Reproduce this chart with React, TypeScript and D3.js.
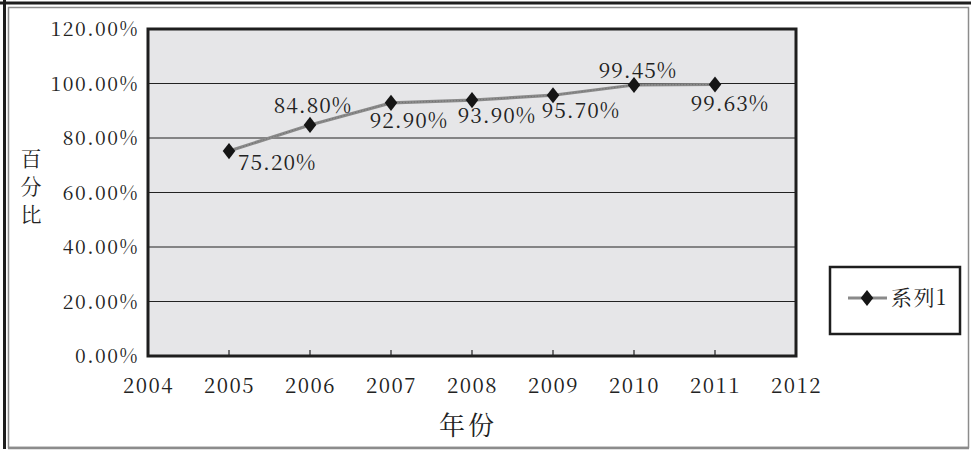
import React, { useEffect, useRef } from "react";
import { select, scaleLinear, axisBottom, axisLeft, line, symbol, symbolDiamond } from "d3";

const years = [2005, 2006, 2007, 2008, 2009, 2010, 2011];
const values = [75.2, 84.8, 92.9, 93.9, 95.7, 99.45, 99.63];
const valueLabels = ["75.20%", "84.80%", "92.90%", "93.90%", "95.70%", "99.45%", "99.63%"];
const yTicks = [0, 20, 40, 60, 80, 100, 120];
const xTicks = [2004, 2005, 2006, 2007, 2008, 2009, 2010, 2011, 2012];
const seriesName = "系列1";
const xTitle = "年份";
const yTitle = "百分比";

// where each data label sits relative to its marker
const labelOffsets: [number, number, string][] = [
    [9, 19, "start"],
    [3, -12, "middle"],
    [18, 25, "middle"],
    [25, 23, "middle"],
    [28, 23, "middle"],
    [4, -7, "middle"],
    [15, 26, "middle"],
];

const FONT = "Noto Serif CJK SC, Liberation Serif, serif";

export default function App(): JSX.Element {
    const ref = useRef<SVGSVGElement>(null);

    useEffect(() => {
        const width = 971;
        const height = 451;
        const left = 148;
        const right = 796;
        const top = 29;
        const bottom = 356;

        const svg = select(ref.current).attr("width", width).attr("height", height);
        svg.selectAll("*").remove();

        svg.append("rect").attr("width", width).attr("height", height).attr("fill", "#fff");

        // outer frame
        svg.append("rect")
            .attr("x", 8.5).attr("y", 7.5).attr("width", 960).attr("height", 440)
            .attr("fill", "none").attr("stroke", "#8c8c8c").attr("stroke-width", 1.5);
        svg.append("line").attr("x1", 8).attr("x2", 969).attr("y1", 448).attr("y2", 448)
            .attr("stroke", "#8c8c8c").attr("stroke-width", 2.5);
        svg.append("line").attr("x1", 0).attr("x2", 971).attr("y1", 3).attr("y2", 3)
            .attr("stroke", "#1e1e1e").attr("stroke-width", 3);
        svg.append("line").attr("x1", 4.5).attr("x2", 4.5).attr("y1", 0).attr("y2", 449)
            .attr("stroke", "#1e1e1e").attr("stroke-width", 3);

        const x = scaleLinear().domain([2004, 2012]).range([left, right]);
        const y = scaleLinear().domain([0, 120]).range([bottom, top]);

        // plot area
        svg.append("rect")
            .attr("x", left).attr("y", top).attr("width", right - left).attr("height", bottom - top)
            .attr("fill", "#e6e6e8");

        svg.append("g")
            .selectAll("line")
            .data(yTicks.slice(1, -1))
            .join("line")
            .attr("x1", left).attr("x2", right)
            .attr("y1", (d) => y(d)).attr("y2", (d) => y(d))
            .attr("stroke", "#222").attr("stroke-width", 1.2);

        svg.append("rect")
            .attr("x", left).attr("y", top).attr("width", right - left).attr("height", bottom - top)
            .attr("fill", "none").attr("stroke", "#1e1e1e").attr("stroke-width", 3);

        const yAxis = svg.append("g")
            .attr("transform", `translate(${left - 9},0)`)
            .call(axisLeft(y).tickValues(yTicks).tickSize(0).tickFormat((d) => `${(+d).toFixed(2)}%`));
        yAxis.attr("font-family", FONT).attr("font-size", 19.5);
        yAxis.select(".domain").remove();
        yAxis.selectAll("text")
            .attr("x", 0).attr("dy", "0.35em")
            .attr("fill", "#222")
            .attr("letter-spacing", 1.5);

        const xAxis = svg.append("g")
            .attr("transform", `translate(0,${bottom})`)
            .call(axisBottom(x).tickValues(xTicks).tickSize(0).tickFormat((d) => String(d)));
        xAxis.attr("font-family", FONT).attr("font-size", 20.5);
        xAxis.select(".domain").remove();
        xAxis.selectAll("text")
            .attr("y", 37).attr("dy", 0)
            .attr("fill", "#222")
            .attr("letter-spacing", 1.5);

        // small inward ticks
        svg.append("g")
            .selectAll("line")
            .data(xTicks.slice(1, -1))
            .join("line")
            .attr("x1", (d) => x(d)).attr("x2", (d) => x(d))
            .attr("y1", bottom - 6).attr("y2", bottom)
            .attr("stroke", "#222").attr("stroke-width", 1.2);

        // series line
        const pts = years.map((yr, i) => [x(yr), y(values[i])] as [number, number]);
        svg.append("path")
            .attr("d", line()(pts))
            .attr("fill", "none").attr("stroke", "#8a8a8a").attr("stroke-width", 3.2);
        svg.append("path")
            .attr("d", line()(pts))
            .attr("fill", "none").attr("stroke", "#6e6e6e").attr("stroke-width", 1)
            .attr("stroke-dasharray", "1 2");

        const diamond = symbol().type(symbolDiamond).size(75);
        svg.append("g")
            .selectAll("path")
            .data(pts)
            .join("path")
            .attr("transform", (d) => `translate(${d[0]},${d[1]}) scale(1.35,1)`)
            .attr("d", diamond())
            .attr("fill", "#151515");

        svg.append("g")
            .attr("font-family", FONT).attr("font-size", 21)
            .selectAll("text")
            .data(valueLabels)
            .join("text")
            .attr("x", (_, i) => pts[i][0] + labelOffsets[i][0])
            .attr("y", (_, i) => pts[i][1] + labelOffsets[i][1])
            .attr("text-anchor", (_, i) => labelOffsets[i][2])
            .attr("fill", "#222")
            .attr("letter-spacing", 1)
            .text((d) => d);

        // axis titles
        svg.append("text")
            .attr("x", 31).attr("y", 190)
            .attr("text-anchor", "middle")
            .attr("writing-mode", "vertical-rl")
            .attr("font-family", FONT).attr("font-size", 21)
            .attr("letter-spacing", 7)
            .attr("fill", "#222")
            .text(yTitle);

        svg.append("text")
            .attr("x", 468).attr("y", 435)
            .attr("text-anchor", "middle")
            .attr("fill", "#222")
            .attr("font-family", FONT).attr("font-size", 26).attr("letter-spacing", 3)
            .text(xTitle);

        // legend
        const legend = svg.append("g");
        legend.append("rect")
            .attr("x", 830).attr("y", 267).attr("width", 130).attr("height", 67)
            .attr("fill", "#fff").attr("stroke", "#1e1e1e").attr("stroke-width", 2.5);
        legend.append("line")
            .attr("x1", 848).attr("x2", 887).attr("y1", 298).attr("y2", 298)
            .attr("stroke", "#8a8a8a").attr("stroke-width", 3.2);
        legend.append("path")
            .attr("transform", "translate(867,298) scale(1.35,1)")
            .attr("d", diamond())
            .attr("fill", "#151515");
        legend.append("text")
            .attr("x", 891).attr("y", 305)
            .attr("fill", "#222")
            .attr("font-family", FONT).attr("font-size", 21).attr("letter-spacing", 1.5)
            .text(seriesName);
    }, []);

    return (
        <div style={{ position: "fixed", left: 0, top: 0 }}>
            <svg ref={ref} style={{ display: "block" }} />
        </div>
    );
}
